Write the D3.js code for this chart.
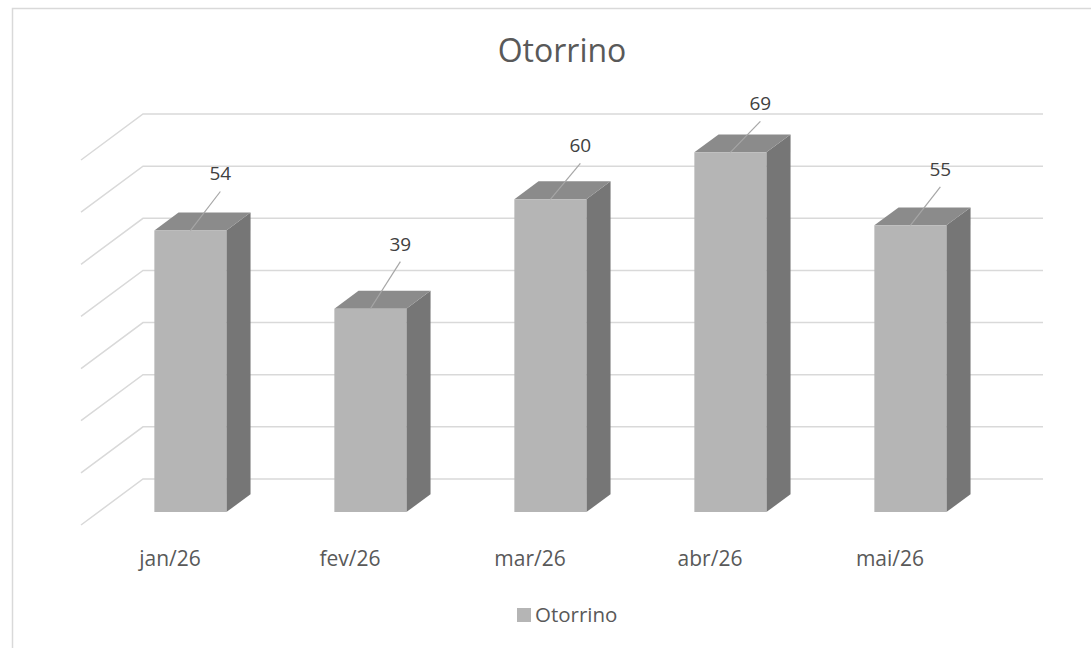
<!DOCTYPE html>
<html>
<head>
<meta charset="utf-8">
<script src="https://cdn.jsdelivr.net/npm/d3@7"></script>
<style>
  body { margin: 0; background: #fff; }
  svg { display: block; font-family: "Open Sans", "Noto Sans", sans-serif; }
</style>
</head>
<body>
<svg></svg>
<script>
//-------------------
// DATA
//-------------------
var categories = ["jan/26", "fev/26", "mar/26", "abr/26", "mai/26"];
var values = [54, 39, 60, 69, 55];
var yTicks = [0, 10, 20, 30, 40, 50, 60, 70];
var seriesName = "Otorrino";
var chartTitle = "Otorrino";

//-------------------
// SETUP
//-------------------
var width = 1091,
    height = 648;

var svg = d3.select("svg")
    .attr("width", width)
    .attr("height", height);

// chart area border (runs off the right and bottom edge)
svg.append("rect")
    .attr("x", 12.5).attr("y", 8.5)
    .attr("width", 1200).attr("height", 700)
    .attr("fill", "#fff")
    .attr("stroke", "#d9d9d9")
    .attr("stroke-width", 1.5);

// back wall scales
var x = d3.scaleBand()
    .domain(categories)
    .range([145, 1045])
    .padding(0);

var y = d3.scaleLinear()
    .domain([0, 70])
    .range([479, 114]);

// depth: 0 = back wall, 1 = front of floor
var depthX = d3.scaleLinear().domain([0, 1]).range([0, -62]);
var depthY = d3.scaleLinear().domain([0, 1]).range([0, 46]);

function proj(px, v, d) {
    return [px + depthX(d), y(v) + depthY(d)];
}

// label height follows the perspective (bar top y -> label baseline y)
var labelY = d3.scaleLinear().domain([152, 308]).range([110, 250]);

var barFront = 0.72,
    barBack = 0.33,
    barHalf = x.bandwidth() * 0.2;

//-------------------
// GRIDLINES
//-------------------
var grid = svg.append("g")
    .attr("fill", "none")
    .attr("stroke", "#d9d9d9")
    .attr("stroke-width", 1.5);

yTicks.forEach(function (t) {
    var a = proj(143, t, 1), b = proj(143, t, 0), c = proj(1043, t, 0);
    grid.append("polyline")
        .attr("points", [a, b, c].map(p => p.join(",")).join(" "));
});

//-------------------
// BARS
//-------------------
var bars = svg.append("g");

categories.forEach(function (c, i) {
    var cx = x(c) + x.bandwidth() / 2,
        v = values[i],
        l = cx - barHalf,
        r = cx + barHalf;
    var g = bars.append("g");
    var pts = ps => ps.map(p => p.join(",")).join(" ");

    // side
    g.append("polygon")
        .attr("points", pts([proj(r, v, barFront), proj(r, v, barBack), proj(r, 0, barBack), proj(r, 0, barFront)]))
        .attr("fill", "#767676");
    // top
    g.append("polygon")
        .attr("points", pts([proj(l, v, barFront), proj(r, v, barFront), proj(r, v, barBack), proj(l, v, barBack)]))
        .attr("fill", "#8b8b8b");
    // front
    g.append("polygon")
        .attr("points", pts([proj(l, v, barFront), proj(r, v, barFront), proj(r, 0, barFront), proj(l, 0, barFront)]))
        .attr("fill", "#b5b5b5");

    // data label with leader line
    var top = proj(cx, v, barFront);
    var ly = labelY(top[1]);
    g.append("line")
        .attr("x1", top[0]).attr("y1", top[1])
        .attr("x2", top[0] + 30).attr("y2", ly + 11)
        .attr("stroke", "#a6a6a6")
        .attr("stroke-width", 1.2);
    g.append("text")
        .attr("x", top[0] + 30)
        .attr("y", ly)
        .attr("text-anchor", "middle")
        .attr("font-size", 19)
        .attr("fill", "#404040")
        .text(v);
});

//-------------------
// CATEGORY LABELS
//-------------------
svg.append("g")
    .selectAll("text")
    .data(categories)
    .enter()
    .append("text")
    .attr("x", d => x(d) + x.bandwidth() / 2 - 65)
    .attr("y", 566)
    .attr("text-anchor", "middle")
    .attr("font-size", 21)
    .attr("fill", "#595959")
    .text(d => d);

//-------------
// TITLE
//-------------
svg.append("text")
    .attr("x", 562)
    .attr("y", 62)
    .attr("text-anchor", "middle")
    .attr("font-size", 32)
    .attr("fill", "#595959")
    .text(chartTitle);

//-------------
// LEGEND
//-------------
var legend = svg.append("g");
legend.append("rect")
    .attr("x", 517).attr("y", 608)
    .attr("width", 14).attr("height", 14)
    .attr("fill", "#b5b5b5");
legend.append("text")
    .attr("x", 535).attr("y", 622)
    .attr("font-size", 20.5)
    .attr("fill", "#595959")
    .text(seriesName);
</script>
</body>
</html>
